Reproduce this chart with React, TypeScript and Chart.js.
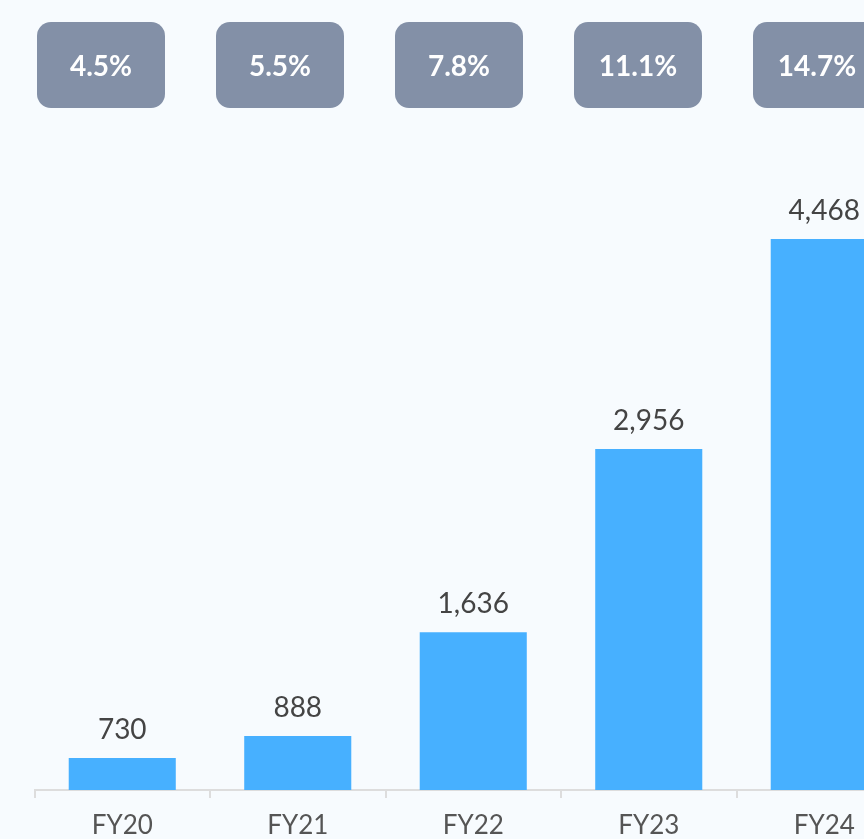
import React, { useEffect, useRef } from "react";
import { Chart, registerables } from "chart.js";

Chart.register(...registerables);

const categories = ["FY20", "FY21", "FY22", "FY23", "FY24"];
const values = [730, 888, 1636, 2956, 4468];
const badgeLabels = ["4.5%", "5.5%", "7.8%", "11.1%", "14.7%"];

const BG = "#f7fbfe";
const BAR = "#47b0ff";
const BADGE = "#8390a7";

const valueLabelPlugin = {
  id: "valueLabels",
  afterDatasetsDraw(chart: any) {
    const ctx = chart.ctx;
    const meta = chart.getDatasetMeta(0);
    ctx.save();
    ctx.font = "28px Lato";
    ctx.fillStyle = "#444444";
    ctx.textAlign = "center";
    ctx.textBaseline = "alphabetic";
    meta.data.forEach((bar: any, i: number) => {
      const v = chart.data.datasets[0].data[i];
      ctx.fillText(Number(v).toLocaleString("en-US"), bar.x, bar.y - 19);
    });
    ctx.restore();
  },
};

export default function App() {
  const ref = useRef<HTMLCanvasElement>(null);
  useEffect(() => {
    if (!ref.current) return;
    Chart.defaults.font.family = "Lato";
    const chart = new Chart(ref.current, {
      type: "bar",
      data: {
        labels: categories,
        datasets: [
          {
            data: values,
            backgroundColor: BAR,
            borderWidth: 0,
            barPercentage: 0.61,
            categoryPercentage: 1,
          },
        ],
      },
      options: {
        responsive: false,
        animation: false,
        devicePixelRatio: 1,
        layout: { padding: { left: 34.5, right: 18, top: 165, bottom: 0 } },
        plugins: { legend: { display: false }, tooltip: { enabled: false } },
        scales: {
          x: {
            afterFit: (scale: any) => {
              scale.height = 49;
            },
            grid: {
              display: true,
              drawOnChartArea: false,
              drawTicks: true,
              tickLength: 8,
              color: "#dddddd",
              lineWidth: 2,
            },
            border: { display: true, color: "#dddddd", width: 2 },
            ticks: { color: "#555555", font: { size: 26, family: "Lato" }, padding: 12 },
          },
          y: {
            display: false,
            min: 500,
            max: 5000,
          },
        },
      },
      plugins: [valueLabelPlugin],
    });
    return () => chart.destroy();
  }, []);

  return (
    <div
      style={{
        position: "fixed",
        left: 0,
        top: 0,
        width: 864,
        height: 839,
        overflow: "hidden",
        background: BG,
      }}
    >
      <canvas ref={ref} width={930} height={839} style={{ position: "absolute", left: 0, top: 0 }} />
      <div
        style={{
          position: "absolute",
          left: 37,
          top: 22,
          display: "flex",
          gap: 51,
        }}
      >
        {badgeLabels.map((b) => (
          <div
            key={b}
            style={{
              width: 128,
              height: 86,
              borderRadius: 14,
              background: BADGE,
              color: "#ffffff",
              fontFamily: "Lato",
              fontWeight: 700,
              fontSize: 28,
              display: "flex",
              alignItems: "center",
              justifyContent: "center",
              flexShrink: 0,
            }}
          >
            {b}
          </div>
        ))}
      </div>
    </div>
  );
}
